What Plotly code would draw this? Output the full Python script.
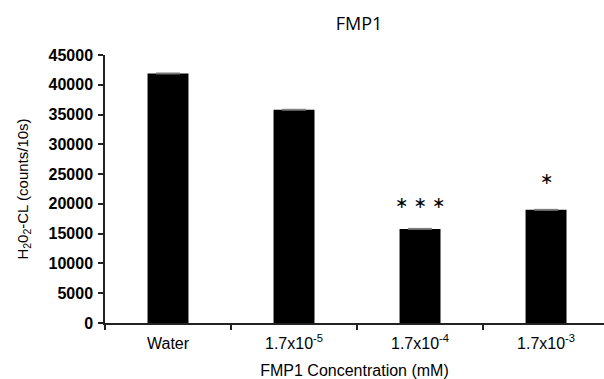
import plotly.graph_objects as go

categories = ["Water", "1.7x10<sup>-5</sup>", "1.7x10<sup>-4</sup>", "1.7x10<sup>-3</sup>"]
values = [41900, 35800, 15800, 19000]
errors = [80, 80, 80, 80]
stars = ["", "", "∗ ∗ ∗", "∗"]
star_offsets = [0, 0, 4500, 5300]

FONT = "Liberation Sans, Arial, sans-serif"

fig = go.Figure()
fig.add_trace(go.Bar(
    x=categories, y=values, width=0.325,
    marker=dict(color="black", line=dict(width=0)),
    error_y=dict(type="data", array=errors, color="#777", thickness=1, width=12),
))
for c, v, s, o in zip(categories, values, stars, star_offsets):
    if s:
        fig.add_annotation(x=c, y=v + o, text=s, showarrow=False,
                           font=dict(family="DejaVu Sans", size=16, color="black"),
                           yanchor="middle")

fig.update_layout(
    width=604, height=379,
    margin=dict(l=105, r=0, t=55, b=56, autoexpand=False),
    paper_bgcolor="white", plot_bgcolor="white",
    showlegend=False,
    title=dict(text="FMP1", x=359 / 604, xanchor="center", y=1 - 24 / 379, yanchor="middle",
               font=dict(family="Open Sans, Noto Sans", size=18, color="black")),
)
fig.update_xaxes(
    type="category", range=[-0.5, 3.46], automargin=False,
    showline=True, linecolor="#222", linewidth=1.5,
    ticks="outside", tickson="boundaries", ticklen=5, tickcolor="#222", tickwidth=1.5,
    tickfont=dict(family=FONT, size=16, color="black"),
    ticklabelstandoff=5,
    title=dict(text="FMP1 Concentration (mM)", standoff=23,
               font=dict(family=FONT, size=16, color="black")),
    showgrid=False,
)
fig.update_yaxes(
    range=[0, 45000], dtick=5000, tickformat="d", automargin=False,
    showline=True, linecolor="#222", linewidth=1.5,
    ticks="outside", ticklen=5, tickcolor="#222", tickwidth=1.5,
    tickfont=dict(family=FONT, size=16, color="black", weight="bold"),
    ticklabelstandoff=2,
    title=dict(text="H<sub>2</sub>0<sub>2</sub>-CL (counts/10s)", standoff=16,
               font=dict(family=FONT, size=15, color="black")),
    showgrid=False, zeroline=False,
)

fig.write_html("out.html")
